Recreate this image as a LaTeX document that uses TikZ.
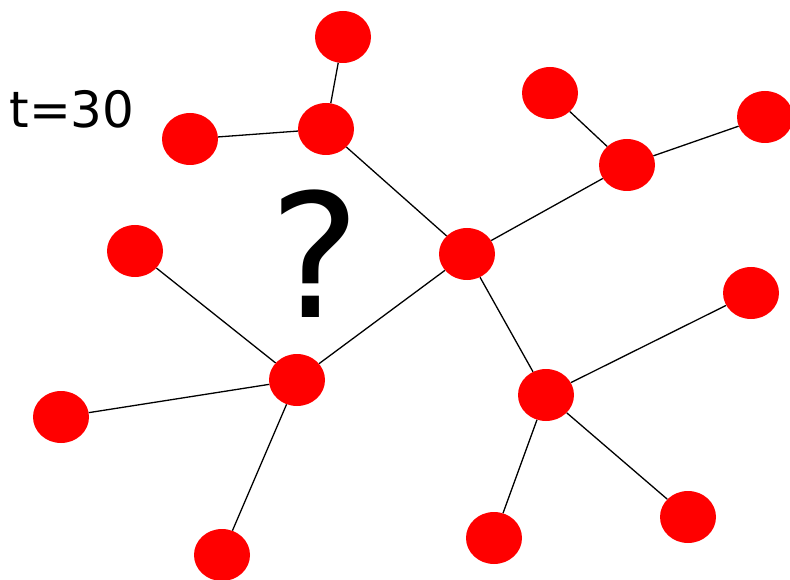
\documentclass[tikz,border=0pt]{standalone}
\usepackage{fontspec}
\setmainfont{DejaVu Sans}
\usetikzlibrary{shapes.geometric}
\begin{document}
\begin{tikzpicture}[x=1pt,y=-1pt,
  dot/.style={ellipse,fill=red,draw=none,minimum width=56pt,minimum height=52pt,inner sep=0pt},
  link/.style={draw=black,line width=1.3pt}]
\useasboundingbox (0,0) rectangle (790,580);
\node[dot] (A) at (343,37) {};
\node[dot] (B) at (326,129) {};
\node[dot] (C) at (190,139) {};
\node[dot] (D) at (550,93) {};
\node[dot] (E) at (627,165) {};
\node[dot] (F) at (765,117) {};
\node[dot] (G) at (467,254) {};
\node[dot] (H) at (135,251) {};
\node[dot] (I) at (297,380) {};
\node[dot] (J) at (61,417) {};
\node[dot] (K) at (222,555) {};
\node[dot] (L) at (546,395) {};
\node[dot] (M) at (751,293) {};
\node[dot] (N) at (688,517) {};
\node[dot] (O) at (494,538) {};
\foreach \a/\b in {A/B,B/C,B/G,D/E,E/F,E/G,G/I,G/L,H/I,I/J,I/K,L/M,L/N,L/O}
  \draw[link] (\a) -- (\b);
\node[anchor=base,inner sep=0pt,font=\fontsize{50}{50}\selectfont] (T) at (72,128) {t=30};
\node[anchor=base,inner sep=0pt,font=\fontsize{172}{172}\selectfont] (Q) at (315,317) {?};
\end{tikzpicture}
\end{document}
